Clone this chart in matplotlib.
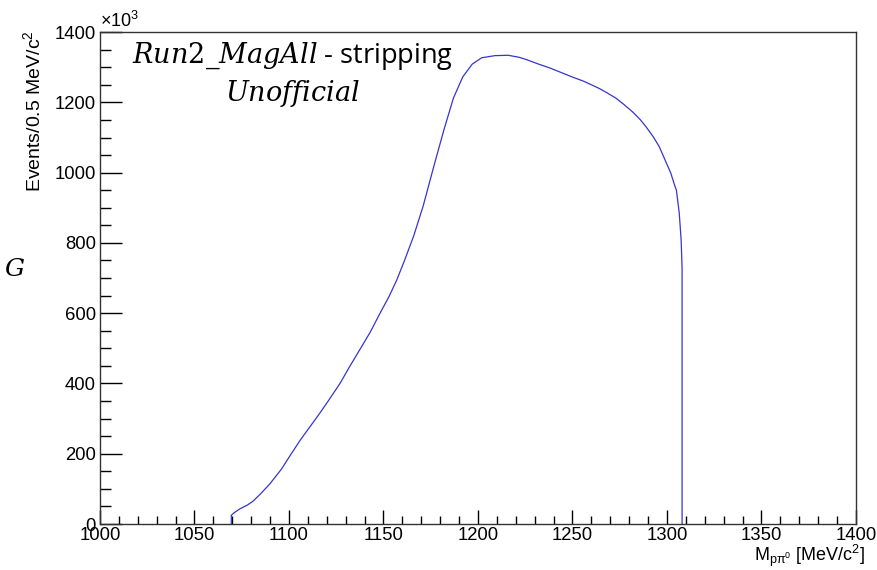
import matplotlib
matplotlib.use("Agg")
import matplotlib.pyplot as plt
from matplotlib.ticker import MultipleLocator

# (counts in units of 10^3 per 0.5 MeV bin)
MASS = [1069.5, 1069.5, 1071, 1074, 1078, 1081, 1085, 1090, 1096, 1101,
        1106, 1111, 1116, 1121, 1127, 1132, 1137, 1143, 1148, 1153,
        1157, 1161, 1166, 1171, 1177, 1182, 1187, 1192, 1197, 1202,
        1209, 1216, 1222, 1226, 1232, 1238, 1244, 1250, 1256, 1260,
        1264, 1268, 1273, 1277, 1282, 1286, 1289, 1293, 1296, 1299,
        1302, 1304, 1305, 1306.5, 1307.5, 1308, 1308]
COUNTS_K = [0, 25, 32, 43, 54, 65, 86, 115, 156, 198,
            239, 276, 313, 352, 400, 447, 492, 546, 598, 648,
            694, 748, 820, 905, 1025, 1122, 1212, 1273, 1309, 1327,
            1333, 1334, 1328, 1321, 1309, 1298, 1285, 1272, 1260, 1250,
            1240, 1228, 1212, 1195, 1172, 1150, 1130, 1100, 1073, 1036,
            999, 965, 950, 885, 808, 729, 0]

XTICKS = [1000, 1050, 1100, 1150, 1200, 1250, 1300, 1350, 1400]
YTICKS = [0, 200, 400, 600, 800, 1000, 1200, 1400]

plt.rcParams['font.family'] = ['Liberation Sans', 'DejaVu Sans']
plt.rcParams['mathtext.fontset'] = 'custom'
plt.rcParams['mathtext.rm'] = 'Liberation Sans'
plt.rcParams['mathtext.it'] = 'Liberation Sans:italic'

fig = plt.figure(figsize=(8.77, 5.70), dpi=100)
ax = fig.add_axes([0.114, 0.0807, 0.862, 0.863])

ax.plot(MASS, COUNTS_K, color='#3535d0', lw=0.9)

ax.set_xlim(1000, 1400)
ax.set_ylim(0, 1400)
ax.set_xticks(XTICKS)
ax.set_yticks(YTICKS)
ax.xaxis.set_minor_locator(MultipleLocator(10))
ax.yaxis.set_minor_locator(MultipleLocator(50))
ax.tick_params(axis='both', which='both', direction='in', labelsize=13.3,
               width=1.0, top=False, right=False)
ax.tick_params(axis='x', which='major', length=10, pad=2)
ax.tick_params(axis='x', which='minor', length=5.8)
ax.tick_params(axis='y', which='major', length=16, pad=3)
ax.tick_params(axis='y', which='minor', length=8)
for s in ax.spines.values():
    s.set_linewidth(1.0)
    s.set_color('#333333')

fig.text(0.114, 0.945, r'$\times$10$^{3}$', fontsize=13, ha='left', va='bottom')
fig.text(0.038, 0.947, r'Events/0.5 MeV/c$^{2}$', fontsize=14, rotation=90,
         ha='center', va='top')
fig.text(0.986, 0.002, r'M$_{\mathrm{p\pi^{0}}}$ [MeV/c$^{2}$]', fontsize=13,
         ha='right', va='bottom')

fig.text(0.333, 0.89, r'$Run2\_MagAll$ - stripping', fontsize=19.5,
         fontfamily='Open Sans', math_fontfamily='dejavuserif', ha='center', va='baseline')
fig.text(0.333, 0.822, r'$Unofficial$', fontsize=19.5,
         math_fontfamily='dejavuserif', ha='center', va='baseline')
fig.text(0.004, 0.515, r'$G$', fontsize=18, math_fontfamily='dejavuserif',
         ha='left', va='baseline')

fig.savefig('out.png', dpi=100)
